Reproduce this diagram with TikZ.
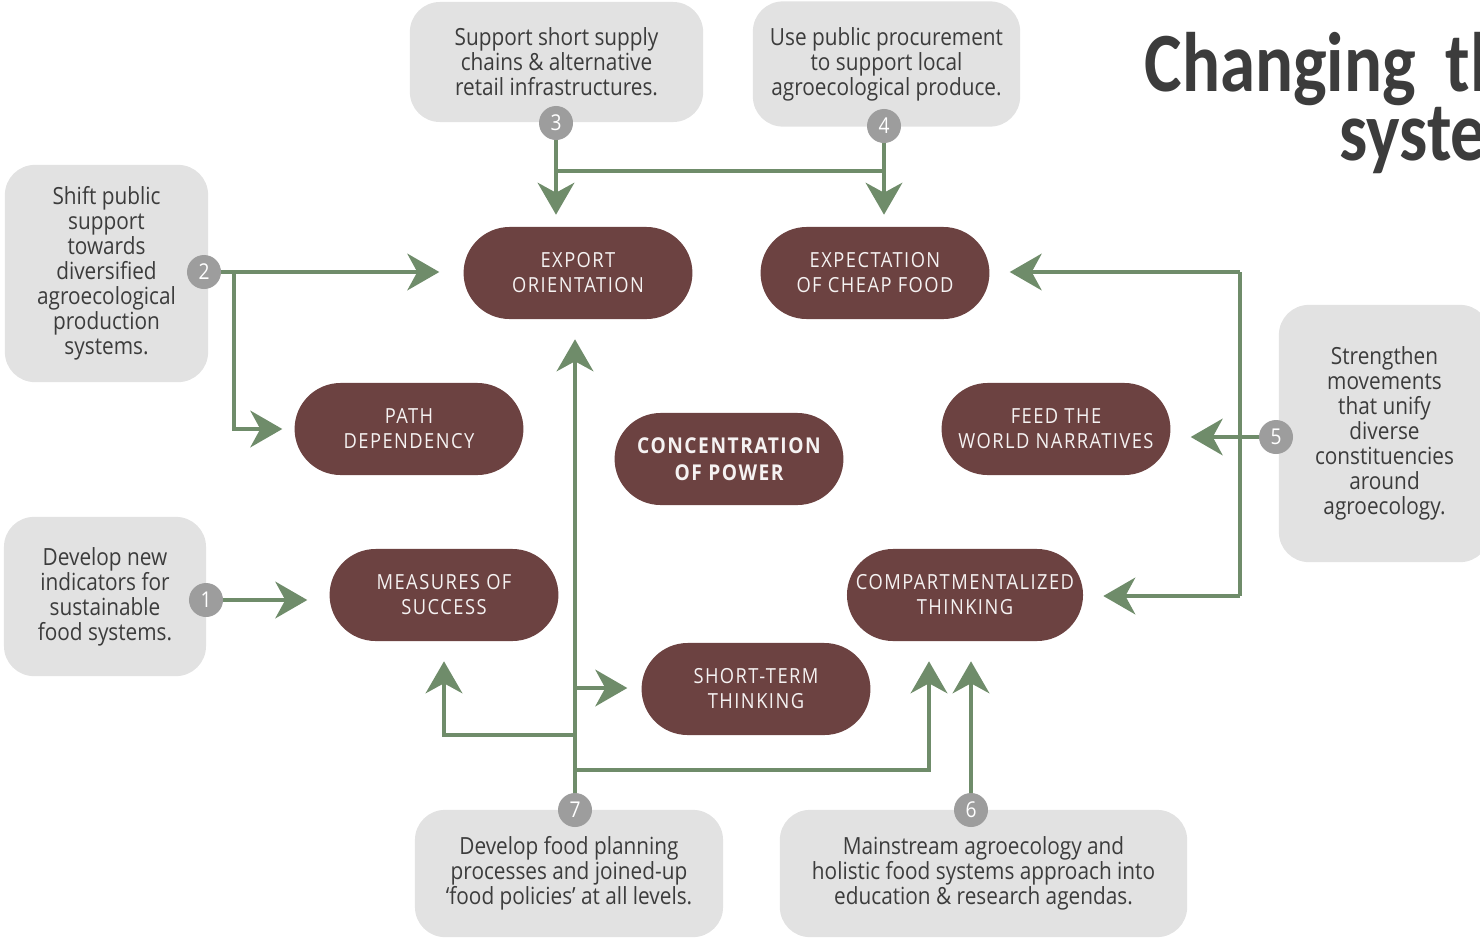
\documentclass[tikz,border=0pt]{standalone}
\usepackage{fontspec}
\setmainfont{Open Sans}[FakeStretch=0.88]
\newfontfamily\pillfont{Open Sans}[FakeStretch=0.88, LetterSpace=7]
\newfontfamily\titlefont{Carlito}[FakeStretch=0.84]
\usetikzlibrary{arrows.meta}
\definecolor{pillred}{HTML}{6C4241}
\definecolor{leafgreen}{HTML}{6F8C6A}
\definecolor{boxgray}{HTML}{E2E2E2}
\definecolor{dotgray}{HTML}{9D9D9D}
\definecolor{inkgray}{HTML}{3C3C3C}
\tikzset{
	cause/.style	= {rectangle, rounded corners=1.15cm, fill=pillred, text=white!93!pillred, minimum width=5.72cm, minimum height=2.3cm, align=center, font=\pillfont\fontsize{14.8}{17.8}\selectfont},
	action/.style	= {rectangle, rounded corners=0.75cm, fill=boxgray, text=inkgray, align=center, font=\fontsize{16.8}{17.8}\selectfont},
	badge/.style	= {circle, fill=dotgray, text=white, minimum size=0.85cm, inner sep=0pt, font=\fontsize{15.5}{15.5}\selectfont},
	wire/.style	= {draw=leafgreen, line width=2.2pt},
	link/.style	= {wire, -{Stealth[length=0.8cm,width=0.92cm,inset=0.25cm]}, shorten >=0.5cm}
}
\begin{document}
\begin{tikzpicture}[x=0.025cm, y=-0.025cm]
	\useasboundingbox (0,0) rectangle (1480,941);
	\clip (0,0) rectangle (1480,941);
	% title
	\node (T) at (1549, 160)	[anchor=base east, align=right, text=inkgray, font=\titlefont\bfseries\fontsize{60}{49}\selectfont]	{Changing\hspace{0.35cm} the\\system};
	% actions
	\node (B3) at (556.5,  62)	[action, minimum width=7.33cm, minimum height=3cm]	{Support short supply\\chains \& alternative\\retail infrastructures.};
	\node (B4) at (886.5,  64)	[action, minimum width=6.68cm, minimum height=3.13cm]	{Use public procurement\\to support local\\agroecological produce.};
	\node (B2) at (106.5, 273.5)	[action, minimum width=5.08cm, minimum height=5.43cm]	{Shift public\\support\\towards\\diversified\\agroecological\\production\\systems.};
	\node (B1) at (105, 596.5)	[action, minimum width=5.05cm, minimum height=3.98cm]	{Develop new\\indicators for\\sustainable\\food systems.};
	\node (B5) at (1384.5, 433.5)	[action, minimum width=5.28cm, minimum height=6.43cm]	{Strengthen\\movements\\that unify\\diverse\\constituencies\\around\\agroecology.};
	\node (B7) at (569, 873.5)	[action, minimum width=7.7cm, minimum height=3.18cm]	{Develop food planning\\processes and joined-up\\‘food policies’ at all levels.};
	\node (B6) at (983.5, 873.5)	[action, minimum width=10.18cm, minimum height=3.18cm]	{Mainstream agroecology and\\holistic food systems approach into\\education \& research agendas.};
	% causes
	\node (EO) at (578, 273)	[cause]	{EXPORT\\ORIENTATION};
	\node (EC) at (875, 273)	[cause]	{EXPECTATION\\OF CHEAP FOOD};
	\node (PD) at (409, 429)	[cause]	{PATH\\DEPENDENCY};
	\node (CP) at (729, 459)	[cause, font=\pillfont\bfseries\fontsize{15.5}{19}\selectfont]	{CONCENTRATION\\OF POWER};
	\node (FW) at (1056, 429)	[cause]	{FEED THE\\WORLD NARRATIVES};
	\node (MS) at (444, 595)	[cause]	{MEASURES OF\\SUCCESS};
	\node (CT) at (965, 595)	[cause, minimum width=5.9cm]	{COMPARTMENTALIZED\\THINKING};
	\node (ST) at (756, 689)	[cause]	{SHORT-TERM\\THINKING};
	% numbers
	\node (N1) at (206, 600)	[badge]	{1};
	\node (N2) at (204, 272)	[badge]	{2};
	\node (N3) at (556, 123)	[badge]	{3};
	\node (N4) at (884, 126)	[badge]	{4};
	\node (N5) at (1276, 437)	[badge]	{5};
	\node (N6) at (971, 810)	[badge]	{6};
	\node (N7) at (575, 810)	[badge]	{7};
	% branch points
	\coordinate (J3) at (556, 171);
	\coordinate (J4) at (884, 171);
	\coordinate (J2) at (234, 272);
	\coordinate (J5a) at (1240, 272);
	\coordinate (J5b) at (1240, 596);
	\coordinate (J7a) at (575, 688);
	\coordinate (J7b) at (575, 735);
	\coordinate (J7c) at (575, 770);
	% arrows
	\draw[link, shorten >=0.3cm] (N3.south) -- (N3.south |- EO.north);
	\draw[link, shorten >=0.3cm] (N4.south) -- (N4.south |- EC.north);
	\draw[wire] (J3) -- (J4);
	\draw[link, shorten >=0.6cm] (N2.east) -- (N2 -| EO.west);
	\draw[link, shorten >=0.3cm] (J2) |- (PD.west);
	\draw[link, shorten >=0.55cm] (N1.east) -- (N1 -| MS.west);
	\draw[link] (N5.west) -- (N5 -| FW.east);
	\draw[wire] (J5a) -- (J5b);
	\draw[link] (J5a) -- (J5a -| EC.east);
	\draw[link] (J5b) -- (J5b -| CT.east);
	\draw[link] (N7.north) -- (N7 |- EO.south);
	\draw[link, shorten >=0.35cm] (J7a) -- (J7a -| ST.west);
	\draw[link] (J7b) -| (MS.south);
	\draw[link] (J7c) -| ([xshift=-0.9cm]CT.south);
	\draw[link] (N6.north) -- (N6 |- CT.south);
\end{tikzpicture}
\end{document}
